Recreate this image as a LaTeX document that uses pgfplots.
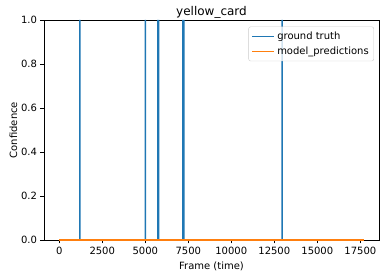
\documentclass[border=0pt]{standalone}
\usepackage{pgfplots}
\pgfplotsset{compat=1.18}
\usepackage{fontspec}
\setmainfont{DejaVu Sans}
\definecolor{tabblue}{HTML}{1F77B4}
\definecolor{taborange}{HTML}{FF7F0E}
\begin{document}
\begin{tikzpicture}
\useasboundingbox (-44pt,-38pt) rectangle (342pt,240pt);
\begin{axis}[
  at={(0,0)}, anchor=south west,
  scale only axis, width=335pt, height=220pt,
  xmin=-885, xmax=18585, ymin=0, ymax=1,
  clip mode=individual,
  xtick={0,2500,5000,7500,10000,12500,15000,17500},
  ytick={0,0.2,0.4,0.6,0.8,1.0},
  xtick pos=bottom, ytick pos=left,
  tick align=outside, major tick length=3.5pt,
  tick style={black, line width=0.8pt},
  axis line style={black, line width=0.8pt},
  /pgf/number format/assume math mode=true,
  x tick label style={/pgf/number format/1000 sep={}, font=\fontsize{10}{12}\selectfont},
  y tick label style={/pgf/number format/.cd, fixed, fixed zerofill, precision=1, /tikz/.cd, font=\fontsize{10}{12}\selectfont},
  scaled x ticks=false,
  title={yellow\_card}, title style={font=\fontsize{12}{14}\selectfont, yshift=-8pt},
  xlabel={Frame (time)}, ylabel={Confidence},
  label style={font=\fontsize{10}{12}\selectfont},
  xlabel style={yshift=0pt},
  ylabel style={yshift=-3pt},
  legend style={at={(0.985,0.97)}, anchor=north east, draw=black!20, rounded corners=2pt,
    fill=white, fill opacity=0.8, text opacity=1, draw opacity=1, font=\fontsize{10}{12}\selectfont,
    inner sep=3pt, row sep=2pt},
  legend cell align=left,
  legend image code/.code={\draw[line width=1.6pt,#1] (0pt,0pt) -- (22pt,0pt);},
]
\addplot[tabblue, line width=1.5pt, sharp plot, forget plot] coordinates {
(0,0)(1199,0)(1200,1)(1201,0)
(5009,0)(5010,1)(5011,0)
(5729,0)(5730,1)(5731,0)(5769,0)(5770,1)(5771,0)
(7189,0)(7190,1)(7191,0)(7239,0)(7240,1)(7241,0)
(12949,0)(12950,1)(12951,0)
(17700,0)};
\addplot[taborange, line width=1.5pt, sharp plot, clip=false, forget plot] coordinates {(0,0)(17700,0)};
\addlegendimage{draw=tabblue}
\addlegendentry{ground truth}
\addlegendimage{draw=taborange}
\addlegendentry{model\_predictions}
\end{axis}
\end{tikzpicture}
\end{document}
